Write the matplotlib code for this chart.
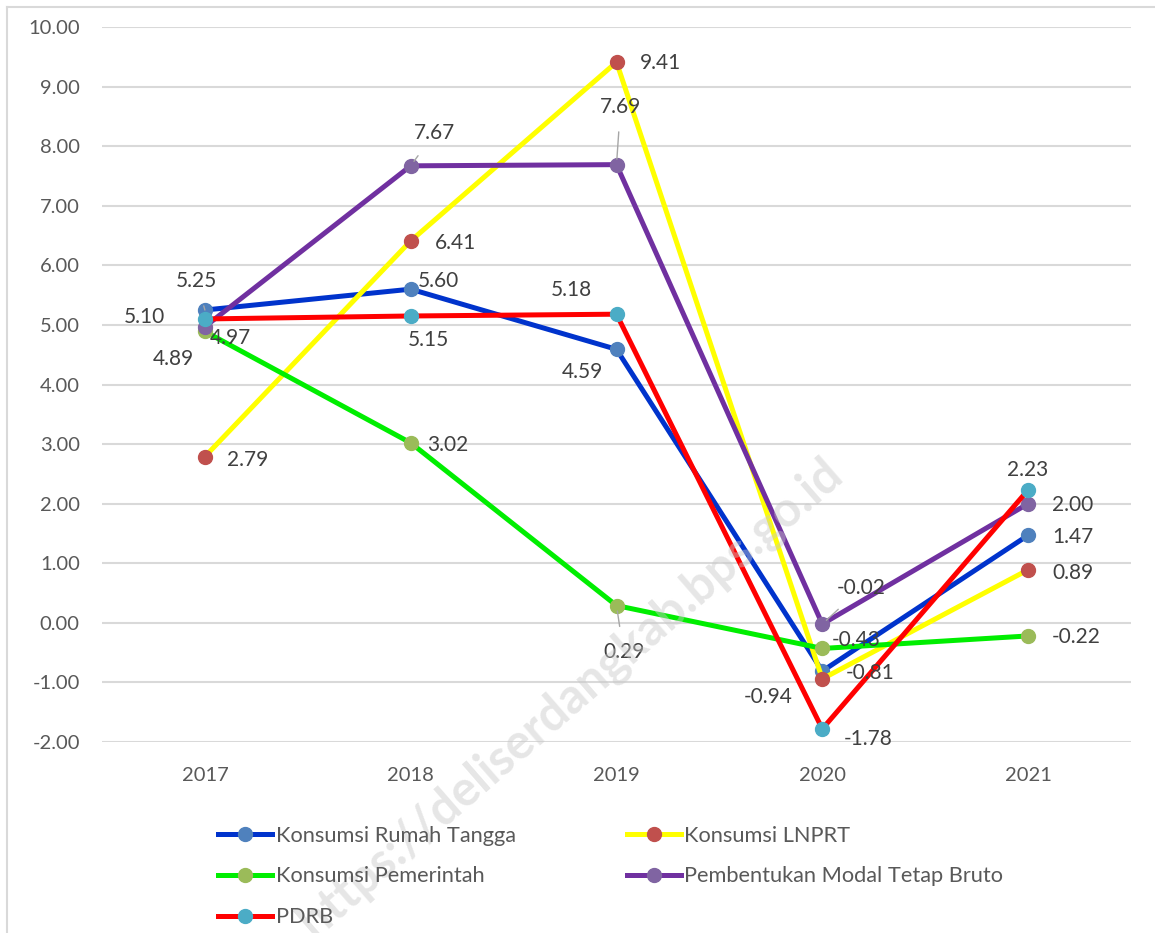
"""Growth of GDP components, 2017-2021 (Excel-style line chart)."""

import matplotlib.pyplot as plt
from matplotlib.lines import Line2D

YEARS = ["2017", "2018", "2019", "2020", "2021"]

KONSUMSI_RT = [5.25, 5.60, 4.59, -0.81, 1.47]
KONSUMSI_LNPRT = [2.79, 6.41, 9.41, -0.94, 0.89]
KONSUMSI_PEMERINTAH = [4.89, 3.02, 0.29, -0.43, -0.22]
PMTB = [4.97, 7.67, 7.69, -0.02, 2.00]
PDRB = [5.10, 5.15, 5.18, -1.78, 2.23]

SERIES_NAMES = [
    "Konsumsi Rumah Tangga",
    "Konsumsi LNPRT",
    "Konsumsi Pemerintah",
    "Pembentukan Modal Tetap Bruto",
    "PDRB",
]
SERIES_VALUES = [KONSUMSI_RT, KONSUMSI_LNPRT, KONSUMSI_PEMERINTAH, PMTB, PDRB]
LINE_COLORS = ["#0033CC", "#FFFF00", "#00EE00", "#7030A0", "#FF0000"]
MARKER_COLORS = ["#4F81BD", "#C0504D", "#9BBB59", "#8064A2", "#4BACC6"]

# label offsets in pixels (dx, dy) per series/year, plus whether a leader line is drawn
LABEL_OFFSETS = [
    [(-8, 29), (28, 8), (-34, -23), (48, -2), (45, -2)],
    [(43, -3), (45, -2), (44, -1), (-54, -18), (45, -3)],
    [(-32, -28), (37, -2), (7, -46), (34, 8), (48, -1)],
    [(26, -11), (24, 33), (4, 58), (39, 36), (45, -1)],
    [(-60, 2), (18, -24), (-45, 24), (46, -10), (0, 20)],
]
LEADERS = {(0, 0), (2, 2), (3, 1), (3, 2), (3, 3)}

TEXT_COLOR = "#595959"
GRID_COLOR = "#D9D9D9"

plt.rcParams["font.family"] = ["Lato", "DejaVu Sans"]

W, H = 1155, 933
fig = plt.figure(figsize=(W / 100, H / 100), dpi=100)
ax = fig.add_axes([102 / W, (H - 742) / H, (1131 - 102) / W, 715 / H])

x = list(range(len(YEARS)))
for i, (name, vals) in enumerate(zip(SERIES_NAMES, SERIES_VALUES)):
    ax.plot(x, vals, color=LINE_COLORS[i], linewidth=3.6, zorder=3 + i,
            marker="o", markersize=10, markerfacecolor=MARKER_COLORS[i],
            markeredgecolor=MARKER_COLORS[i], label=name)
    for j, v in enumerate(vals):
        dx, dy = LABEL_OFFSETS[i][j]
        arrow = None
        if (i, j) in LEADERS:
            arrow = dict(arrowstyle="-", color="#A6A6A6", lw=1.0,
                         shrinkA=9, shrinkB=4)
        ax.annotate(f"{v:.2f}", (j, v), xytext=(dx, dy), textcoords="offset pixels",
                    ha="center", va="center", fontsize=15, color="#404040",
                    arrowprops=arrow, zorder=10)

ax.set_xlim(-0.5, len(YEARS) - 0.5)
ax.set_ylim(-2, 10)
ax.set_yticks(range(-2, 11))
ax.set_yticklabels([f"{t:.2f}" for t in range(-2, 11)])
ax.set_xticks(x)
ax.set_xticklabels(YEARS)
ax.tick_params(length=0, labelsize=14.5, labelcolor=TEXT_COLOR)
ax.tick_params(axis="y", pad=16)
ax.tick_params(axis="x", pad=18)
ax.grid(axis="y", color=GRID_COLOR, linewidth=1.5, zorder=0)
ax.set_axisbelow(True)
for s in ax.spines.values():
    s.set_visible(False)

# watermark (runs off the bottom edge, as in the source image)
fig.text(0.494, 0.253, "https://deliserdangkab.bps.go.id", rotation=41,
         fontsize=35, fontweight="bold", color="#C8C8C8", alpha=0.45,
         ha="center", va="center", zorder=2)

# outer chart frame (top and left edges visible)
fig.add_artist(Line2D([7 / W, 1], [1 - 7 / H, 1 - 7 / H], color=GRID_COLOR, lw=1.5))
fig.add_artist(Line2D([7 / W, 7 / W], [0, 1 - 7 / H], color=GRID_COLOR, lw=1.5))

handles, labels = ax.get_legend_handles_labels()
order = [0, 2, 4, 1, 3]
fig.legend([handles[k] for k in order], [labels[k] for k in order],
           ncol=2, loc="upper left", bbox_to_anchor=(209 / W, 1 - 817 / H),
           frameon=False, fontsize=15.7, labelcolor=TEXT_COLOR,
           handlelength=2.5, handletextpad=0.15, columnspacing=5.1,
           labelspacing=0.95, borderaxespad=0)

fig.savefig("out.png", dpi=100)
